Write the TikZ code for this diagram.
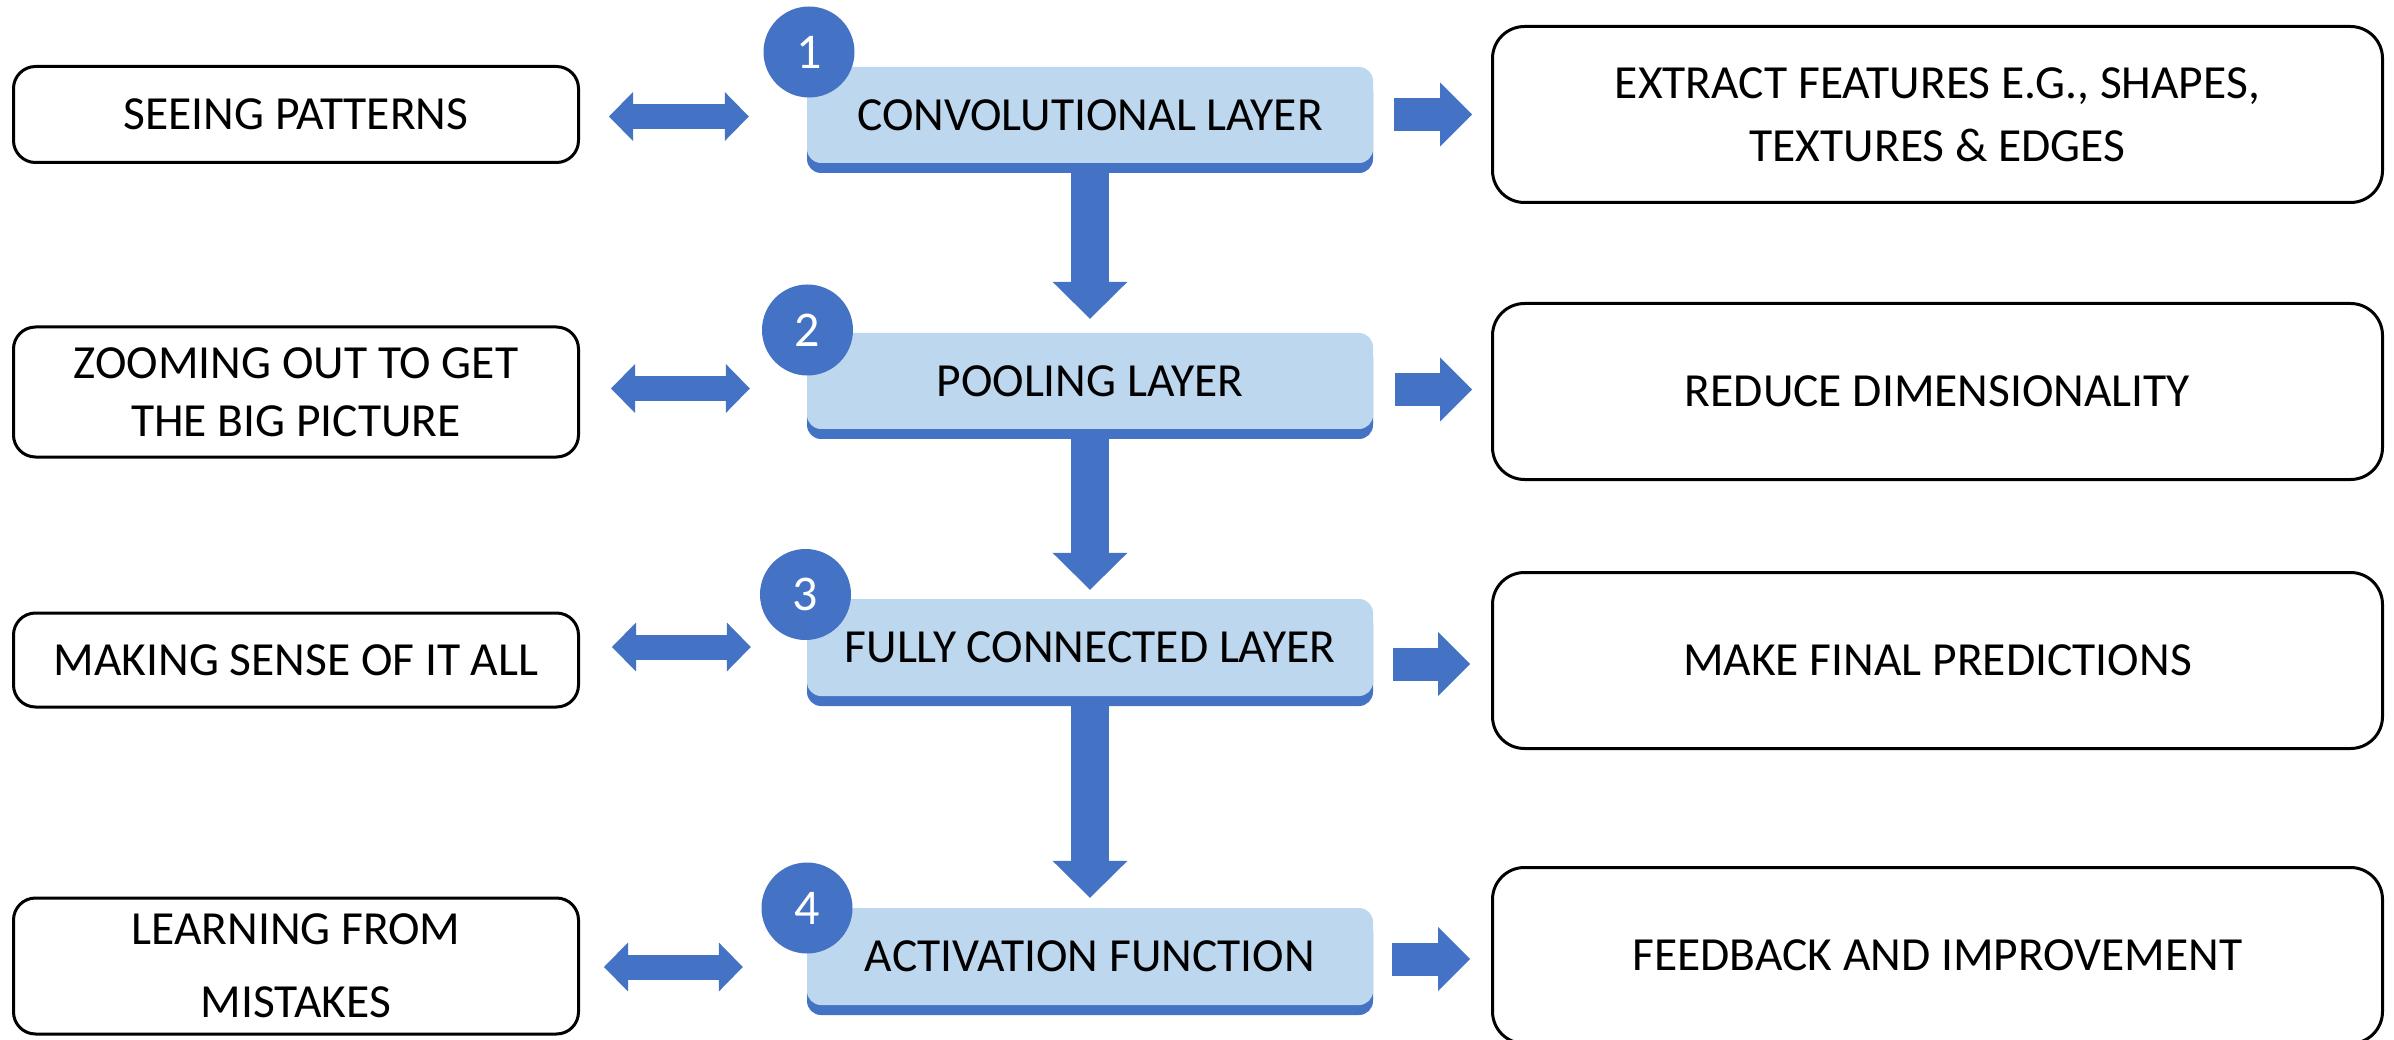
\documentclass[tikz,border=0pt]{standalone}
\usepackage{fontspec}
\setmainfont{Carlito}
\usetikzlibrary{arrows.meta,calc,shadows}
\definecolor{cnnblue}{HTML}{4472C4}
\definecolor{cnnlight}{HTML}{BDD7EE}
\begin{document}
\begin{tikzpicture}[x=1pt,y=-1pt,
  lbox/.style={draw=black, line width=3pt, rounded corners=22pt, minimum width=565pt,
    inner sep=0pt, align=center, font=\fontsize{47.5}{58}\selectfont},
  rbox/.style={draw=black, line width=3pt, rounded corners=32pt, minimum width=890pt,
    minimum height=176pt, inner sep=0pt, align=center, font=\fontsize{47.5}{63}\selectfont},
  mbox/.style={fill=cnnlight, rounded corners=14pt, minimum width=566pt, inner sep=0pt,
    general shadow={fill=cnnblue, shadow yshift=-10pt},
    font=\fontsize{47.5}{58}\selectfont},
  cnum/.style={circle, fill=cnnblue, minimum size=91pt, inner sep=0pt, text=white,
    font=\fontsize{50}{50}\selectfont},
  darr/.style={draw=cnnblue, line width=38pt, line cap=butt,
    -{Triangle[length=37pt,width=75pt,line width=0pt]}},
  rarr/.style={draw=cnnblue, line width=33pt, line cap=butt,
    -{Triangle[length=32pt,width=64pt,line width=0pt]}},
  dbl/.style={draw=cnnblue, line width=25pt, line cap=butt,
    {Triangle[length=24pt,width=49pt,line width=0pt]}-{Triangle[length=24pt,width=49pt,line width=0pt]}}
]
\useasboundingbox (0,0) rectangle (2394,1040);
\clip (0,0) rectangle (2394,1040);

% left boxes
\node[lbox, minimum height=96pt] (l1) at (296,114.5) {SEEING PATTERNS};
\node[lbox, minimum height=130pt] (l2) at (296,392) {ZOOMING OUT TO GET\\THE BIG PICTURE};
\node[lbox, minimum height=94pt] (l3) at (296,660) {MAKING SENSE OF IT ALL};
\node[lbox, minimum height=136pt, font=\fontsize{47.5}{73}\selectfont] (l4) at (296,966) {LEARNING FROM\\MISTAKES};

% middle boxes
\node[mbox, minimum height=96pt] (m1) at (1090,115) {CONVOLUTIONAL LAYER};
\node[mbox, minimum height=96pt] (m2) at (1090,381) {POOLING LAYER};
\node[mbox, minimum height=97pt] (m3) at (1090,647.5) {FULLY CONNECTED LAYER};
\node[mbox, minimum height=97pt] (m4) at (1090,956.5) {ACTIVATION FUNCTION};

% number circles
\node[cnum] (c1) at (809,52) {1};
\node[cnum] (c2) at (807.5,330) {2};
\node[cnum] (c3) at (805.5,594.5) {3};
\node[cnum] (c4) at (807,908) {4};

% right boxes
\node[rbox] (r1) at (1937.5,114.5) {EXTRACT FEATURES E.G., SHAPES,\\TEXTURES \& EDGES};
\node[rbox] (r2) at (1937.5,391.5) {REDUCE DIMENSIONALITY};
\node[rbox] (r3) at (1937.5,660.5) {MAKE FINAL PREDICTIONS};
\node[rbox] (r4) at (1937.5,955.5) {FEEDBACK AND IMPROVEMENT};

% down arrows
\draw[darr] ($(m1.south)+(0,10)$) -- ($(m2.north)+(0,-14)$);
\draw[darr] ($(m2.south)+(0,10)$) -- ($(m3.north)+(0,-9)$);
\draw[darr] ($(m3.south)+(0,10)$) -- ($(m4.north)+(0,-10)$);

% right arrows
\draw[rarr] ($(m1.east |- r1.west)+(21,0)$) -- ($(r1.west)+(-19,0)$);
\draw[rarr] ($(m2.east |- r2.west)+(22,-2)$) -- ($(r2.west)+(-19,-2)$);
\draw[rarr] ($(m3.east |- r3.west)+(20,3.5)$) -- ($(r3.west)+(-21,3.5)$);
\draw[rarr] ($(m4.east |- r4.west)+(19,3.5)$) -- ($(r4.west)+(-21,3.5)$);

% double arrows
\draw[dbl] ($(l1.east)+(29,2)$) -- ($(l1.east -| m1.west)+(-58,2)$);
\draw[dbl] ($(l2.east)+(31,-3.5)$) -- ($(l2.east -| m2.west)+(-57,-3.5)$);
\draw[dbl] ($(l3.east)+(32,-13)$) -- ($(l3.east -| m3.west)+(-56,-13)$);
\draw[dbl] ($(l4.east)+(24,1)$) -- ($(l4.east -| m4.west)+(-64,1)$);
\end{tikzpicture}
\end{document}
